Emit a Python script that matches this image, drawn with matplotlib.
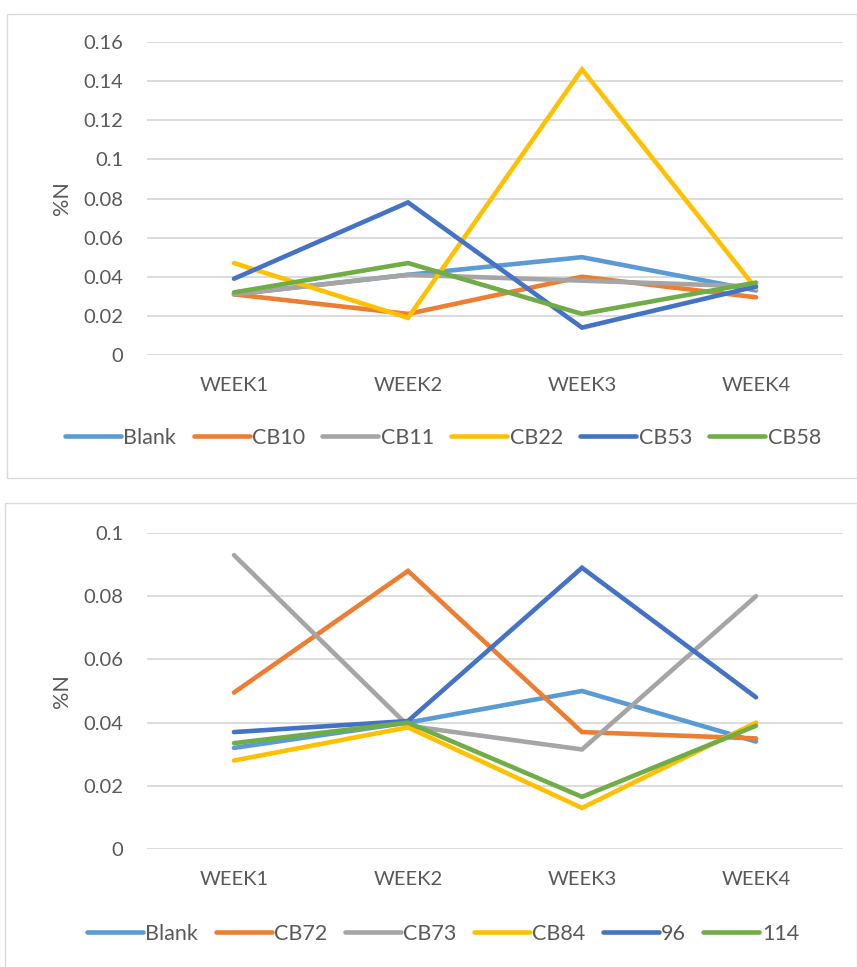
import matplotlib
matplotlib.use('Agg')
import matplotlib.pyplot as plt
from matplotlib.patches import Rectangle

weeks = ['WEEK1', 'WEEK2', 'WEEK3', 'WEEK4']

# top chart
top_names = ['Blank', 'CB10', 'CB11', 'CB22', 'CB53', 'CB58']
blank_a = [0.031, 0.041, 0.050, 0.033]
cb10 = [0.031, 0.021, 0.040, 0.0295]
cb11 = [0.031, 0.041, 0.038, 0.035]
cb22 = [0.047, 0.019, 0.146, 0.034]
cb53 = [0.039, 0.078, 0.014, 0.035]
cb58 = [0.032, 0.047, 0.021, 0.037]
top_ticks = [0, 0.02, 0.04, 0.06, 0.08, 0.1, 0.12, 0.14, 0.16]

# bottom chart
bot_names = ['Blank', 'CB72', 'CB73', 'CB84', '96', '114']
blank_b = [0.032, 0.040, 0.050, 0.034]
cb72 = [0.0495, 0.088, 0.037, 0.035]
cb73 = [0.093, 0.039, 0.0315, 0.080]
cb84 = [0.028, 0.0385, 0.013, 0.040]
s96 = [0.037, 0.0405, 0.089, 0.048]
s114 = [0.0335, 0.040, 0.0165, 0.039]
bot_ticks = [0, 0.02, 0.04, 0.06, 0.08, 0.1]

colors = ['#5B9BD5', '#ED7D31', '#A5A5A5', '#FFC000', '#4472C4', '#70AD47']
text_col = '#595959'
grid_col = '#D9D9D9'

plt.rcParams['font.family'] = ['Lato', 'DejaVu Sans']
W, H = 857, 967
fig = plt.figure(figsize=(W / 100, H / 100), dpi=100)


def px_rect(x0, y0, x1, y1):
    return [x0 / W, 1 - y1 / H, (x1 - x0) / W, (y1 - y0) / H]


def panel(rect, series, names, ticks, legend_y):
    ax = fig.add_axes(px_rect(*rect))
    x = range(len(weeks))
    for vals, name, c in zip(series, names, colors):
        ax.plot(x, vals, color=c, lw=3.3, label=name, solid_capstyle='round',
                solid_joinstyle='miter')
    ax.set_xlim(-0.5, 3.5)
    ax.set_ylim(ticks[0], ticks[-1])
    ax.set_yticks(ticks)
    ax.set_yticklabels(['{:g}'.format(t) for t in ticks])
    ax.set_xticks(list(x))
    ax.set_xticklabels(weeks)
    for s in ax.spines.values():
        s.set_visible(False)
    ax.grid(axis='y', color=grid_col, lw=1.3)
    ax.set_axisbelow(True)
    ax.tick_params(axis='both', length=0, labelsize=14.5, colors=text_col)
    ax.tick_params(axis='y', pad=17)
    ax.tick_params(axis='x', pad=16)
    ax.set_ylabel('%N', fontsize=15.5, color=text_col)
    ax.yaxis.set_label_coords(-0.108, 0.5)
    fig.legend(*ax.get_legend_handles_labels(), loc='center', ncol=6,
               bbox_to_anchor=(0.517, 1 - legend_y / H), frameon=False,
               fontsize=15.5, labelcolor=text_col, handlelength=2.6,
               handletextpad=0.12, columnspacing=0.8)
    return ax


# panel borders
fig.add_artist(Rectangle((7 / W, 1 - 478 / H), (W - 7) / W, 464 / H,
                         transform=fig.transFigure, fill=False,
                         edgecolor=grid_col, lw=1))
fig.add_artist(Rectangle((5 / W, -0.01), (W - 5) / W, 1 - 503 / H + 0.01,
                         transform=fig.transFigure, fill=False,
                         edgecolor=grid_col, lw=1))

panel((147, 42, 843, 355), [blank_a, cb10, cb11, cb22, cb53, cb58],
      top_names, top_ticks, 438)
panel((147, 533, 843, 849), [blank_b, cb72, cb73, cb84, s96, s114],
      bot_names, bot_ticks, 934)

fig.savefig('out.png', dpi=100)
